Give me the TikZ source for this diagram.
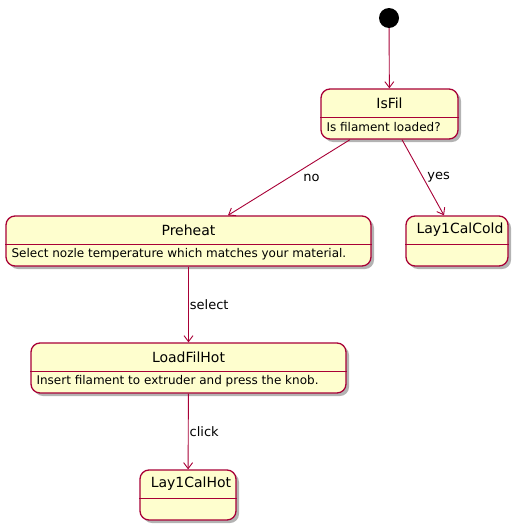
\documentclass[tikz,border=0pt]{standalone}
\usepackage{fontspec}
\setmainfont{DejaVu Sans}
\usetikzlibrary{arrows.meta,shadows,positioning}
\definecolor{umlfill}{HTML}{FEFECE}
\definecolor{umlline}{HTML}{A80036}

\tikzset{
  statebox/.style={draw=umlline, fill=umlfill, line width=1.3pt,
    rounded corners=9pt, inner sep=0pt, minimum height=50pt,
    drop shadow={shadow xshift=3pt, shadow yshift=-3pt,
      fill=black!50, opacity=.6}},
  divider/.style={draw=umlline, line width=.9pt},
  statename/.style={inner sep=0pt, font=\fontsize{14}{16}\selectfont},
  statetext/.style={inner sep=0pt, anchor=west, font=\fontsize{12}{14}\selectfont},
  edge/.style={draw=umlline, line width=.9pt,
    -{Straight Barb[length=6pt,width=9pt]}},
  edgelabel/.style={inner sep=0pt, anchor=west, font=\fontsize{13}{15}\selectfont},
  startdot/.style={circle, fill=black, minimum size=20pt, inner sep=0pt}
}

\begin{document}
\begin{tikzpicture}[x=1pt,y=-1pt]
\useasboundingbox (0,0) rectangle (520,530);

% start
\node[startdot] (start) at (389,18) {};

% states
\node[statebox, minimum width=137pt] (isfil) at (389.5,114) {};
\draw[divider] ([yshift=-3pt]isfil.west) -- ([yshift=-3pt]isfil.east);
\node[statename] (isfilname) at ([yshift=11pt]isfil.center) {IsFil};
\node[statetext] (isfiltext) at ([xshift=6pt,yshift=-13.5pt]isfil.west) {Is filament loaded?};

\node[statebox, minimum width=365pt] (preheat) at (188.5,241) {};
\draw[divider] ([yshift=-3pt]preheat.west) -- ([yshift=-3pt]preheat.east);
\node[statename] (preheatname) at ([yshift=11pt]preheat.center) {Preheat};
\node[statetext] (preheattext) at ([xshift=6pt,yshift=-13.5pt]preheat.west) {Select nozle temperature which matches your material.};

\node[statebox, minimum width=102pt] (calcold) at (457,241) {};
\draw[divider] ([yshift=-3pt]calcold.west) -- ([yshift=-3pt]calcold.east);
\node[statename] (calcoldname) at ([xshift=3pt,yshift=11pt]calcold.center) {Lay1CalCold};

\node[statebox, minimum width=315pt] (loadhot) at (188.5,368) {};
\draw[divider] ([yshift=-3pt]loadhot.west) -- ([yshift=-3pt]loadhot.east);
\node[statename] (loadhotname) at ([yshift=11pt]loadhot.center) {LoadFilHot};
\node[statetext] (loadhottext) at ([xshift=6pt,yshift=-13.5pt]loadhot.west) {Insert filament to extruder and press the knob.};

\node[statebox, minimum width=96pt] (calhot) at (188,495) {};
\draw[divider] ([yshift=-3pt]calhot.west) -- ([yshift=-3pt]calhot.east);
\node[statename] (calhotname) at ([xshift=3pt,yshift=11pt]calhot.center) {Lay1CalHot};

% transitions
\draw[edge] (start) -- (isfil);
\draw[edge] ([xshift=-39.5pt]isfil.south) -- node[edgelabel, xshift=14pt] (nolabel) {no} ([xshift=39.5pt]preheat.north);
\draw[edge] ([xshift=12.5pt]isfil.south) -- node[edgelabel, xshift=4pt] (yeslabel) {yes} ([xshift=-13pt]calcold.north);
\draw[edge] (preheat) -- node[edgelabel, xshift=1pt] (selectlabel) {select} (loadhot);
\draw[edge] (loadhot) -- node[edgelabel, xshift=1pt] (clicklabel) {click} (calhot);
\end{tikzpicture}
\end{document}
